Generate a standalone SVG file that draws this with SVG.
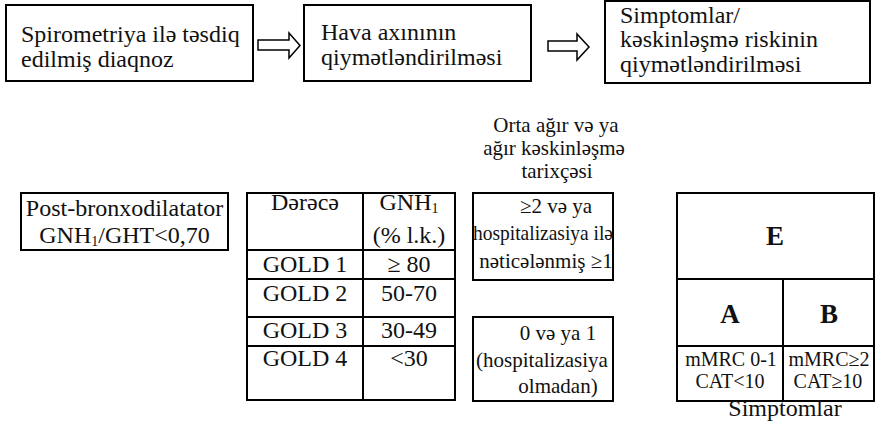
<svg xmlns="http://www.w3.org/2000/svg" width="888" height="427" viewBox="0 0 888 427">
<style>
text{fill:#111;font-size:24px;font-family:"Liberation Serif","Times New Roman",serif}
.box{fill:#fff;stroke:#000;stroke-width:2}
.ln{stroke:#000;stroke-width:2;fill:none}
.c{text-anchor:middle}
.m{font-size:21px}
.b{font-weight:bold;font-size:27px}
.s{font-size:20px}
.sub{font-size:14px}
.arr{fill:#fff;stroke:#000;stroke-width:1.5;stroke-linejoin:miter}
</style>
<rect width="888" height="427" fill="#fff"/>
<g id="step1">
<rect class="box" x="6" y="5" width="247" height="76"/>
<text style="font-family:'Liberation Serif',serif !important" x="21" y="42">Spirometriya ilə təsdiq</text>
<text style="font-family:'Liberation Serif',serif !important" x="21" y="67">edilmiş diaqnoz</text>
</g>
<g id="step2">
<rect class="box" x="304" y="5" width="227" height="76"/>
<text style="font-family:'Liberation Serif',serif !important" x="321" y="40">Hava axınının</text>
<text style="font-family:'Liberation Serif',serif !important" x="321" y="65">qiymətləndirilməsi</text>
</g>
<g id="step3">
<rect class="box" x="605" y="1" width="265" height="82"/>
<text style="font-family:'Liberation Serif',serif !important" x="620" y="23">Simptomlar/</text>
<text style="font-family:'Liberation Serif',serif !important" x="620" y="47">kəskinləşmə riskinin</text>
<text style="font-family:'Liberation Serif',serif !important" x="620" y="72">qiymətləndirilməsi</text>
</g>
<g id="connectors">
<polygon class="arr" points="258,40 289,40 289,33 300,45.5 289,58 289,50 258,50"/>
<polygon class="arr" points="548,41 577,41 577,34 589,47 577,60 577,51 548,51"/>
</g>
<g id="postbd">
<rect class="box" x="21" y="193" width="207" height="57"/>
<text class="c" x="124.5" y="216">Post-bronxodilatator</text>
<text class="c" x="124.5" y="243">GNH<tspan class="sub" dy="3">1</tspan><tspan dy="-3">/GHT&lt;0,70</tspan></text>
</g>
<g id="gold-table">
<rect class="box" x="247" y="193" width="208" height="207"/>
<line class="ln" x1="363" y1="193" x2="363" y2="400"/>
<line class="ln" x1="247" y1="250" x2="455" y2="250"/>
<line class="ln" x1="247" y1="279" x2="455" y2="279"/>
<line class="ln" x1="247" y1="317" x2="455" y2="317"/>
<line class="ln" x1="247" y1="346" x2="455" y2="346"/>
<text style="font-family:'Liberation Serif',serif !important" class="c" x="305" y="210">Dərəcə</text>
<text class="c" x="409" y="210">GNH<tspan class="sub" dy="3">1</tspan></text>
<text class="c" x="409" y="243">(% l.k.)</text>
<text class="c" x="305" y="272">GOLD 1</text>
<text class="c" x="409" y="272">≥ 80</text>
<text class="c" x="305" y="301">GOLD 2</text>
<text class="c" x="409" y="301">50-70</text>
<text class="c" x="305" y="338">GOLD 3</text>
<text class="c" x="409" y="338">30-49</text>
<text class="c" x="305" y="366">GOLD 4</text>
<text class="c" x="409" y="366">&lt;30</text>
</g>
<g id="history">
<text style="font-family:'Liberation Serif',serif !important" class="c m" x="556" y="132">Orta ağır və ya</text>
<text style="font-family:'Liberation Serif',serif !important" class="c m" x="554" y="155">ağır kəskinləşmə</text>
<text style="font-family:'Liberation Serif',serif !important" class="c m" x="557" y="178">tarixçəsi</text>
</g>
<g id="exac-high">
<rect class="box" x="473" y="193" width="140" height="87"/>
<text style="font-family:'Liberation Serif',serif !important" class="c m" x="556" y="213">≥2 və ya</text>
<text style="font-family:'Liberation Serif',serif !important" class="c m" x="543" y="240" textLength="140" lengthAdjust="spacingAndGlyphs">hospitalizasiya ilə</text>
<text style="font-family:'Liberation Serif',serif !important" class="c m" x="546" y="268">nəticələnmiş ≥1</text>
</g>
<g id="exac-low">
<rect class="box" x="473" y="317" width="140" height="84"/>
<text style="font-family:'Liberation Serif',serif !important" class="c m" x="558" y="340">0 və ya 1</text>
<text class="c m" x="542" y="367">(hospitalizasiya</text>
<text class="c m" x="558" y="393">olmadan)</text>
</g>
<g id="abe-grid">
<rect class="box" x="677" y="193" width="197" height="208"/>
<line class="ln" x1="677" y1="279" x2="874" y2="279"/>
<line class="ln" x1="677" y1="346" x2="874" y2="346"/>
<line class="ln" x1="783" y1="279" x2="783" y2="401"/>
<text class="c b" x="775" y="245">E</text>
<text class="c b" x="730" y="323">A</text>
<text class="c b" x="829" y="323">B</text>
<text class="c s" x="731" y="366">mMRC 0-1</text>
<text class="c s" x="730" y="388">CAT&lt;10</text>
<text class="c s" x="829" y="366">mMRC≥2</text>
<text class="c s" x="828" y="388">CAT≥10</text>
<text style="font-family:'Liberation Serif',serif !important" class="c" x="785" y="416" font-size="22">Simptomlar</text>
</g>
</svg>
